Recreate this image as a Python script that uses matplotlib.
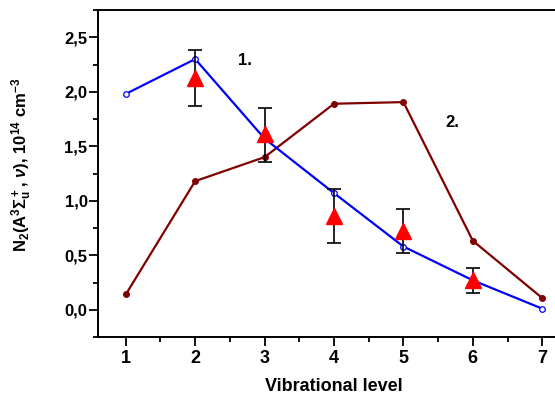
import matplotlib

matplotlib.use("Agg")
import matplotlib.pyplot as plt
from matplotlib.ticker import FixedLocator, MultipleLocator, FuncFormatter

plt.rcParams["font.family"] = ["Liberation Sans", "DejaVu Sans"]
plt.rcParams["font.weight"] = "bold"
plt.rcParams["mathtext.fontset"] = "custom"
plt.rcParams["mathtext.rm"] = "Liberation Sans:bold"
plt.rcParams["mathtext.bf"] = "Liberation Sans:bold"
plt.rcParams["mathtext.it"] = "Liberation Sans:italic:bold"
plt.rcParams["mathtext.default"] = "bf"

# данные
levels = [1, 2, 3, 4, 5, 6, 7]
calc_1 = [1.98, 2.30, 1.57, 1.07, 0.58, 0.27, 0.01]
calc_2 = [0.14, 1.18, 1.40, 1.89, 1.905, 0.633, 0.107]

exp_levels = [2, 3, 4, 5, 6]
exp_values = [2.13, 1.61, 0.86, 0.72, 0.27]
exp_err_low = [0.26, 0.25, 0.25, 0.20, 0.12]
exp_err_high = [0.25, 0.24, 0.25, 0.20, 0.11]

y_ticks = [0.0, 0.5, 1.0, 1.5, 2.0, 2.5]

fig = plt.figure(figsize=(5.55, 3.96), dpi=100)
ax = fig.add_axes([98 / 555, 59 / 396, 472 / 555, 327 / 396])

ax.plot(levels, calc_2, color="#800000", linewidth=1.6, marker="o",
        markersize=4, markerfacecolor="#800000", markeredgecolor="#800000", zorder=3)
ax.plot(levels, calc_1, color="#0000ff", linewidth=1.6, marker="o",
        markersize=4, markerfacecolor="white", markeredgecolor="#0000ff",
        markeredgewidth=0.9, zorder=3)
ax.errorbar(exp_levels, exp_values, yerr=[exp_err_low, exp_err_high], fmt="none",
            ecolor="black", elinewidth=1.2, capsize=5, capthick=1.2, zorder=4)
ax.plot(exp_levels, exp_values, linestyle="none", marker="^", markersize=11,
        color="#ff0000", markeredgecolor="#ff0000", zorder=5)

ax.text(2.72, 2.29, "1.", fontsize=12, fontweight="bold", ha="center", va="center")
ax.text(5.70, 1.72, "2.", fontsize=12, fontweight="bold", ha="center", va="center")

ax.set_xlim(0.6, 7.4)
ax.set_ylim(-0.25, 2.75)
ax.xaxis.set_major_locator(FixedLocator(levels))
ax.xaxis.set_minor_locator(MultipleLocator(0.5))
ax.yaxis.set_major_locator(FixedLocator(y_ticks))
ax.yaxis.set_minor_locator(MultipleLocator(0.25))
ax.yaxis.set_major_formatter(FuncFormatter(lambda v, p: f"{v:.1f}".replace(".", ",")))

ax.tick_params(which="major", direction="out", length=6.5, width=1.3)
ax.tick_params(which="minor", direction="out", length=3.5, width=1.3)
ax.tick_params(axis="x", which="major", labelsize=13, pad=3)
ax.tick_params(axis="y", which="major", labelsize=12, pad=1)
for spine in ax.spines.values():
    spine.set_linewidth(1.4)

ax.set_xlabel("Vibrational level", fontsize=13, fontweight="bold")
ax.xaxis.set_label_coords(0.5, -0.125)
ax.set_ylabel(r"N$_2$(A$^3\Sigma_u^+$, $\mathit{\nu}$), 10$^{14}$ cm$^{-3}$",
              fontsize=12, fontweight="bold")
ax.yaxis.set_label_coords(-0.135, 0.526)

fig.savefig("out.png", dpi=100)
